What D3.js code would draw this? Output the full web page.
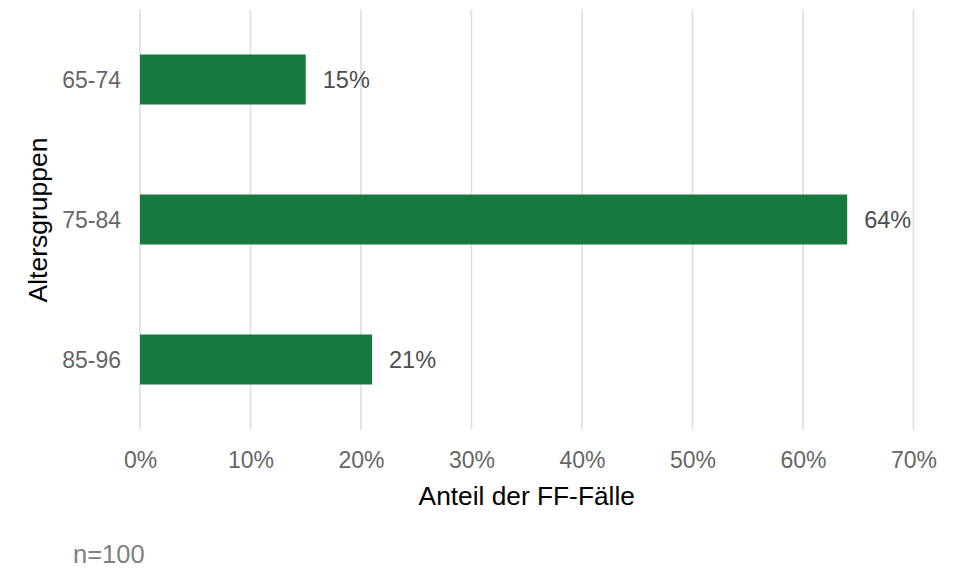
<!DOCTYPE html>
<html><head><meta charset="utf-8">
<script src="https://cdn.jsdelivr.net/npm/d3@7"></script>
<style>body{margin:0;background:#fff;} svg{display:block;font-family:"Liberation Sans",Arial,sans-serif;}</style>
</head><body>
<svg id="c" width="956" height="569"></svg>
<script>
const categories = ["65-74", "75-84", "85-96"];
const values = [15, 64, 21];
const xTicks = [0, 10, 20, 30, 40, 50, 60, 70];
const xTitle = "Anteil der FF-Fälle";
const yTitle = "Altersgruppen";
const caption = "n=100";

const svg = d3.select("#c");
const x = d3.scaleLinear().domain([0, 70]).range([140, 913.5]);
const y = d3.scaleBand().domain(categories).range([9.5, 429.5]).paddingInner(0.643).paddingOuter(0.3215);

// gridlines
svg.append("g").selectAll("line").data(xTicks).join("line")
  .attr("x1", d => x(d)).attr("x2", d => x(d))
  .attr("y1", 9.5).attr("y2", 429.5)
  .attr("stroke", "#dedede").attr("stroke-width", 1.6);

// bars
svg.append("g").selectAll("rect").data(values).join("rect")
  .attr("x", x(0)).attr("y", (d, i) => y(categories[i]))
  .attr("width", d => x(d) - x(0)).attr("height", y.bandwidth())
  .attr("fill", "#18793f");

// value labels
svg.append("g").selectAll("text").data(values).join("text")
  .attr("x", d => x(d) + 17).attr("y", (d, i) => y(categories[i]) + y.bandwidth() / 2)
  .attr("dy", "0.36em").attr("font-size", 23.5).attr("fill", "#4d4d4d")
  .text(d => d + "%");

// x axis
const xAxis = svg.append("g").attr("transform", "translate(0,429.5)")
  .call(d3.axisBottom(x).tickValues(xTicks).tickFormat(d => d + "%").tickSize(0).tickPadding(38));
xAxis.select(".domain").remove();
xAxis.selectAll("text").attr("font-size", 23).attr("fill", "#666666").attr("font-family", "Liberation Sans, Arial, sans-serif").attr("dy", 0);

// y axis
const yAxis = svg.append("g").attr("transform", "translate(140,0)")
  .call(d3.axisLeft(y).tickSize(0).tickPadding(19));
yAxis.select(".domain").remove();
yAxis.selectAll("text").attr("font-size", 23).attr("fill", "#666666").attr("font-family", "Liberation Sans, Arial, sans-serif").attr("dy", "0.36em");

// titles
svg.append("text").attr("x", x(35)).attr("y", 505).attr("text-anchor", "middle")
  .attr("font-size", 26.3).attr("fill", "#000").text(xTitle);
svg.append("text").attr("transform", "translate(47,220) rotate(-90)").attr("text-anchor", "middle")
  .attr("font-size", 26.5).attr("fill", "#000").text(yTitle);
svg.append("text").attr("x", 73).attr("y", 563)
  .attr("font-size", 25.5).attr("fill", "#808080").text(caption);
</script>
</body></html>
